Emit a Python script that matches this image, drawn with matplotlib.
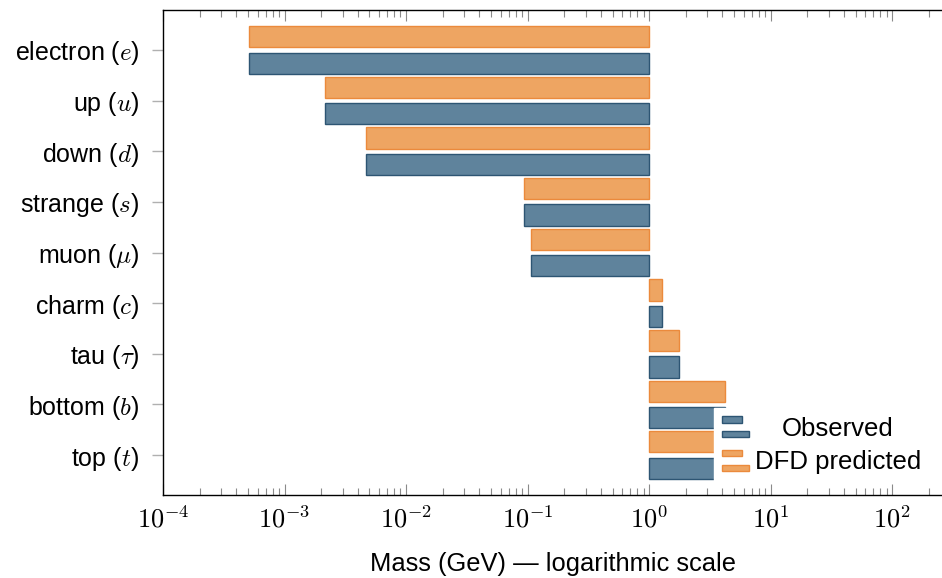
import numpy as np
import matplotlib
matplotlib.use('Agg')
import matplotlib.pyplot as plt
from matplotlib.patches import Rectangle, Patch
from matplotlib.legend_handler import HandlerBase
from matplotlib.ticker import FuncFormatter

plt.rcParams['font.family'] = ['Liberation Sans', 'DejaVu Sans']
plt.rcParams['mathtext.fontset'] = 'cm'

# particles, top to bottom
particles = ['electron ($e$)', 'up ($u$)', 'down ($d$)', 'strange ($s$)', 'muon ($\\mu$)',
             'charm ($c$)', 'tau ($\\tau$)', 'bottom ($b$)', 'top ($t$)']
# masses in GeV
observed = [0.000511, 0.00216, 0.00467, 0.093, 0.1057, 1.27, 1.777, 4.18, 172.7]
predicted = [0.000511, 0.00216, 0.00467, 0.093, 0.1057, 1.27, 1.777, 4.18, 172.7]

blue_fill, blue_edge = '#5f839c', '#2d5573'
orange_fill, orange_edge = '#eea562', '#eb8a3c'


class TwoBarHandler(HandlerBase):
    # pgfplots-like legend image: two small bars
    def create_artists(self, legend, orig_handle, xdescent, ydescent, width, height, fontsize, trans):
        bh = height * 0.3
        r1 = Rectangle((-xdescent, -ydescent + height * 0.7), width * 0.74, bh,
                       facecolor=orig_handle.get_facecolor(), edgecolor=orig_handle.get_edgecolor(),
                       linewidth=1.0, transform=trans)
        r2 = Rectangle((-xdescent, -ydescent), width, bh,
                       facecolor=orig_handle.get_facecolor(), edgecolor=orig_handle.get_edgecolor(),
                       linewidth=1.0, transform=trans)
        return [r1, r2]


fig = plt.figure(figsize=(9.42, 5.78), dpi=100)
ax = fig.add_axes([163 / 942, 83 / 578, 779 / 942, 485 / 578])

y = np.arange(len(particles))
bh = 0.42
ax.barh(y + 0.26, np.array(observed) - 1, left=1, height=bh,
        color=blue_fill, edgecolor=blue_edge, linewidth=1.0, zorder=2)
ax.barh(y - 0.26, np.array(predicted) - 1, left=1, height=bh,
        color=orange_fill, edgecolor=orange_edge, linewidth=1.0, zorder=2)

ax.set_xscale('log')
ax.set_xlim(1e-4, 10 ** 2.41)
ax.xaxis.set_major_formatter(FuncFormatter(lambda v, p: r'$10^{%d}$' % round(np.log10(v))))
ax.set_ylim(len(particles) - 1 + 0.79, -0.79)
ax.set_yticks(y)
ax.set_yticklabels(particles, fontsize=18)

ax.tick_params(axis='x', which='both', direction='in', top=True, bottom=True,
               color='#8a8a8a', labelsize=19)
ax.tick_params(axis='x', which='major', length=8, width=0.8, pad=8)
ax.tick_params(axis='x', which='minor', length=5, width=0.8)
ax.tick_params(axis='y', which='major', direction='out', length=8, width=1.0,
               color='#b0b0b0', pad=9)
ax.spines['right'].set_visible(False)
for s in ['left', 'top', 'bottom']:
    ax.spines[s].set_linewidth(1.0)

ax.set_xlabel('Mass (GeV) — logarithmic scale', fontsize=18.4, labelpad=14)

handles = [Patch(facecolor=blue_fill, edgecolor=blue_edge),
           Patch(facecolor=orange_fill, edgecolor=orange_edge)]
leg = ax.legend(handles, ['Observed', 'DFD predicted'], loc='lower right',
                bbox_to_anchor=(0.983, 0.027), fontsize=18.5, frameon=True, fancybox=False,
                framealpha=1.0, edgecolor='white', handler_map={Patch: TwoBarHandler()},
                handlelength=1.05, handleheight=0.9, handletextpad=0.23, labelspacing=0.35,
                borderpad=0.3, borderaxespad=0)

# center the legend texts like pgfplots does
fig.canvas.draw()
r = fig.canvas.get_renderer()
texts = leg.get_texts()
widths = [t.get_window_extent(r).width for t in texts]
for t, w in zip(texts, widths):
    t.set_x((max(widths) - w) / 2)

fig.savefig('out.png', dpi=100)
